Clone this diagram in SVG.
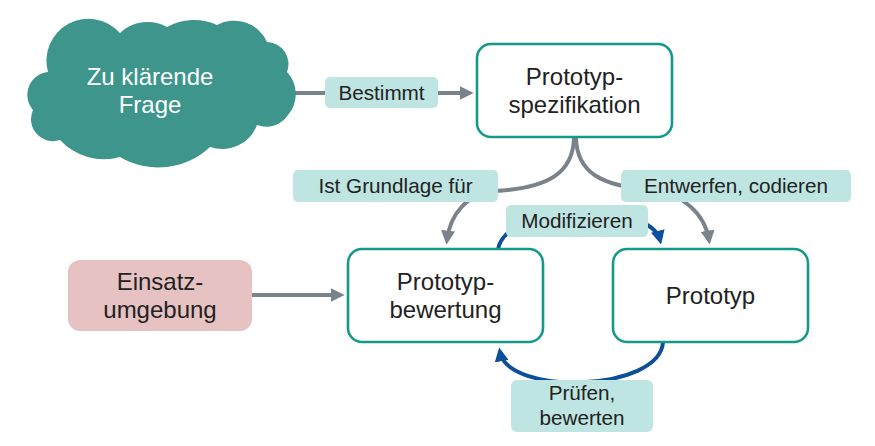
<svg xmlns="http://www.w3.org/2000/svg" width="875" height="446" viewBox="0 0 875 446">
<defs>
<style>
.node{fill:#ffffff;stroke:#16998a;stroke-width:2.6}
.lbl{fill:#bee5e1}
.t{font-family:"Liberation Sans",Arial,sans-serif;font-size:24px;fill:#222222;text-anchor:middle}
.lt{font-family:"Liberation Sans",Arial,sans-serif;font-size:20.7px;fill:#222222;text-anchor:middle}
.g{fill:none;stroke:#7a828b;stroke-width:4}
.b{fill:none;stroke:#0c4f9a;stroke-width:4}
</style>
<marker id="ag" markerUnits="userSpaceOnUse" markerWidth="14" markerHeight="14" refX="8" refY="6" orient="auto" viewBox="0 0 12 12">
<path d="M0,0 L12,6 L0,12 z" fill="#7a828b"/>
</marker>
<marker id="ab" markerUnits="userSpaceOnUse" markerWidth="14" markerHeight="14" refX="8" refY="6" orient="auto" viewBox="0 0 12 12">
<path d="M0,0 L12,6 L0,12 z" fill="#0c4f9a"/>
</marker>
</defs>
<rect width="875" height="446" fill="#ffffff"/>
<g id="connectors">
<path class="g" d="M295,93 L469,93" marker-end="url(#ag)"/>
<path class="g" d="M252,295 L340,295" marker-end="url(#ag)"/>
<path class="g" d="M574,138 C573,172 550,188 495,191 C468,193 450,214 447,240" marker-end="url(#ag)"/>
<path class="g" d="M576,138 C577,172 600,186 652,190 C682,193 705,214 709,240" marker-end="url(#ag)"/>
<path class="b" d="M498,250 C503,204 650,200 660,240" marker-end="url(#ab)"/>
<path class="b" d="M663,342 C660,392 508,396 500,352" marker-end="url(#ab)"/>
</g>
<g id="cloud">
<path d="M48,72 A42,42 0 0 1 120,33 A40,40 0 0 1 167,27 A55,55 0 0 1 217,25 A36,36 0 0 1 267,42 A22,22 0 0 1 287,72 A32,32 0 0 1 288,115 A26,26 0 0 1 257,125 A37,37 0 0 1 210,147 A75,75 0 0 1 120,157 A60,60 0 0 1 60,140 A22,22 0 0 1 33,110 A23,23 0 0 1 48,72 Z" fill="#3e958b"/>
<text class="t" x="150" y="85" style="fill:#ffffff">Zu klärende</text>
<text class="t" x="150" y="113" style="fill:#ffffff">Frage</text>
</g>
<g id="spec">
<rect class="node" x="477" y="44" width="195" height="93" rx="14"/>
<text class="t" x="574.5" y="85">Prototyp-</text>
<text class="t" x="574.5" y="113">spezifikation</text>
</g>
<g id="einsatz">
<rect x="68" y="260" width="184" height="71" rx="12" fill="#e6c2c2"/>
<text class="t" x="160" y="290">Einsatz-</text>
<text class="t" x="160" y="318">umgebung</text>
</g>
<g id="bewertung">
<rect class="node" x="348" y="249" width="195" height="93" rx="14"/>
<text class="t" x="445.5" y="290">Prototyp-</text>
<text class="t" x="445.5" y="318">bewertung</text>
</g>
<g id="prototyp">
<rect class="node" x="613" y="249" width="195" height="93" rx="14"/>
<text class="t" x="710.5" y="304">Prototyp</text>
</g>
<g id="labels">
<g id="l-bestimmt">
<rect class="lbl" x="325" y="77" width="113" height="31" rx="5"/>
<text class="lt" x="381.5" y="99.5">Bestimmt</text>
</g>
<g id="l-grundlage">
<rect class="lbl" x="293" y="170" width="205" height="32" rx="5"/>
<text class="lt" x="395.5" y="193">Ist Grundlage für</text>
</g>
<g id="l-entwerfen">
<rect class="lbl" x="621" y="170" width="230" height="32" rx="5"/>
<text class="lt" x="736" y="193">Entwerfen, codieren</text>
</g>
<g id="l-modifizieren">
<rect class="lbl" x="506" y="205" width="142" height="32" rx="5"/>
<text class="lt" x="577" y="228">Modifizieren</text>
</g>
<g id="l-pruefen">
<rect class="lbl" x="511" y="380" width="142" height="52" rx="6"/>
<text class="lt" x="582" y="400">Prüfen,</text>
<text class="lt" x="582" y="425">bewerten</text>
</g>
</g>
</svg>
